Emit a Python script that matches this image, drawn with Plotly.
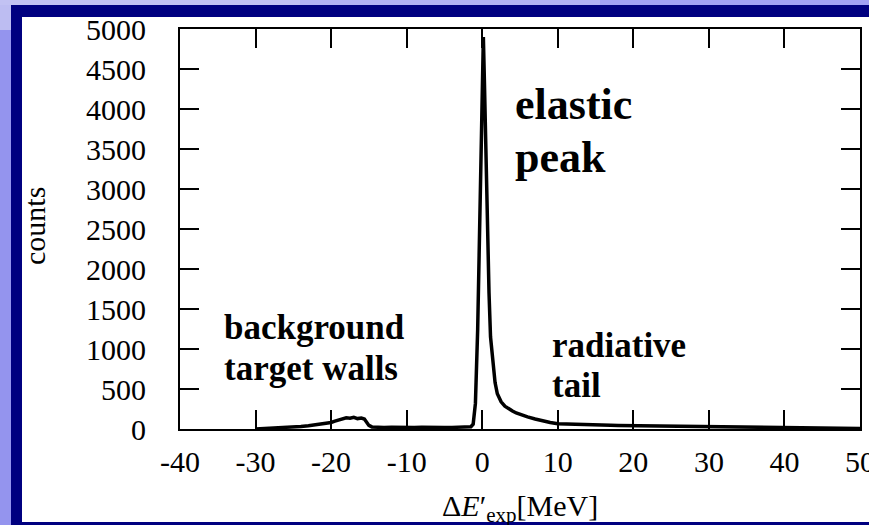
import plotly.graph_objects as go

# Energy-loss spectrum: counts vs. Delta E'_exp in MeV
delta_e = [
    -30, -29, -28, -27, -26, -25, -24, -23, -22, -21, -20, -19.5, -19, -18.5, -18,
    -17.5, -17, -16.5, -16, -15.6, -15.3, -15, -14.6, -14, -13, -12, -11, -10, -9,
    -8, -7, -6, -5, -4, -3, -2, -1.5, -1.2, -0.9, -0.6, -0.3, 0, 0.15, 0.3, 0.5,
    0.7, 0.9, 1.1, 1.4, 1.7, 2.0, 2.5, 3, 3.5, 4, 4.5, 5, 6, 7, 8, 9, 10, 11, 12,
    13, 14, 15, 16, 17, 18, 19, 20, 21, 22, 23, 24, 25, 26, 27, 28, 29, 30, 31, 32,
    33, 34, 35, 36, 37, 38, 39, 40, 41, 42, 43, 44, 45, 46, 47, 48, 49, 50,
]
counts = [
    0, 4, 7, 12, 17, 24, 32, 42, 52, 66, 82, 98, 112, 128, 140,
    134, 146, 130, 136, 124, 85, 45, 26, 20, 18, 21, 17, 19, 18,
    21, 17, 19, 18, 20, 19, 22, 28, 60, 320, 1250, 2550, 4200, 4900, 4300, 3250,
    2450, 1700, 1150, 800, 580, 440, 340, 285, 250, 225, 200, 182, 152, 125, 100, 82, 66, 62, 60,
    57, 55, 50, 52, 47, 45, 44, 40, 41, 38, 36, 37, 34, 33, 31, 32, 30, 29, 30, 27,
    28, 25, 24, 23, 22, 20, 19, 17, 15, 13, 12, 10, 9, 8, 7, 6, 5, 5,
]

x_ticks = [-40, -30, -20, -10, 0, 10, 20, 30, 40, 50]
y_ticks = [0, 500, 1000, 1500, 2000, 2500, 3000, 3500, 4000, 4500, 5000]

W, H = 869, 525
L, R, T, B = 180, 860, 29, 429


def px(xp):
    return (xp - L) / (R - L)


def py(yp):
    return (B - yp) / (B - T)


serif = "Liberation Serif"

fig = go.Figure()
fig.add_trace(go.Scatter(
    x=delta_e, y=counts, mode="lines",
    line=dict(color="black", width=3.5),
    hoverinfo="skip", showlegend=False,
))

# Slide frame around the figure
frame = [
    (0, 0, 300, 5, "#c2c2f3"),
    (300, 0, 600, 5, "#b2b2f3"),
    (600, 0, 869, 5, "#a2a2f4"),
    (0, 5, 11, 30, "#bdbdf2"),
    (0, 30, 11, 525, "#9494ee"),
    (11, 5, 869, 17, "#000080"),
    (11, 5, 22, 525, "#000080"),
    (11, 522, 869, 525, "#000080"),
]
shapes = []
for x0, y0, x1, y1, c in frame:
    shapes.append(dict(
        type="rect", xref="paper", yref="paper",
        x0=px(x0), x1=px(x1), y0=py(y0), y1=py(y1),
        fillcolor=c, line=dict(width=0), layer="above",
    ))

label_font = dict(family=serif, size=35, color="black")
annotations = [
    dict(x=4.07, y=4060, text="<b>elastic</b>", font=dict(family=serif, size=44, color="black")),
    dict(x=4.07, y=3400, text="<b>peak</b>", font=dict(family=serif, size=44, color="black")),
    dict(x=-34.5, y=1270, text="<b>background</b>", font=label_font),
    dict(x=-34.5, y=760, text="<b>target walls</b>", font=label_font),
    dict(x=9.0, y=1040, text="<b>radiative</b>", font=label_font),
    dict(x=9.0, y=550, text="<b>tail</b>", font=label_font),
]
for a in annotations:
    a.update(xref="x", yref="y", xanchor="left", yanchor="middle", showarrow=False)

annotations.append(dict(
    xref="paper", yref="paper", x=px(34), y=py(226), text="counts",
    textangle=-90, showarrow=False, xanchor="center", yanchor="middle",
    font=dict(family=serif, size=30, color="black"),
))
annotations.append(dict(
    xref="paper", yref="paper", x=0.5, y=py(508),
    text="Δ<i>E</i>′<sub>exp</sub>[MeV]",
    showarrow=False, xanchor="center", yanchor="middle",
    font=dict(family=serif, size=30, color="black"),
))

axis_common = dict(
    showgrid=False, zeroline=False, showline=True, linecolor="black", linewidth=2,
    mirror="ticks", ticks="inside", ticklen=19, tickwidth=1.5, tickcolor="black",
    tickfont=dict(family=serif, size=30, color="black"),
    ticklabeloverflow="allow",
)

fig.update_layout(
    width=W, height=H,
    margin=dict(l=L, r=W - R, t=T, b=H - B, autoexpand=False),
    paper_bgcolor="white", plot_bgcolor="rgba(0,0,0,0)",
    xaxis=dict(range=[-40, 50], tickvals=x_ticks, ticktext=[str(v) for v in x_ticks],
               ticklabelstandoff=5, **axis_common),
    yaxis=dict(range=[0, 5000], tickvals=y_ticks, ticktext=[str(v) for v in y_ticks],
               ticklabelstandoff=26, **axis_common),
    shapes=shapes, annotations=annotations,
)

fig.write_html("out.html")
